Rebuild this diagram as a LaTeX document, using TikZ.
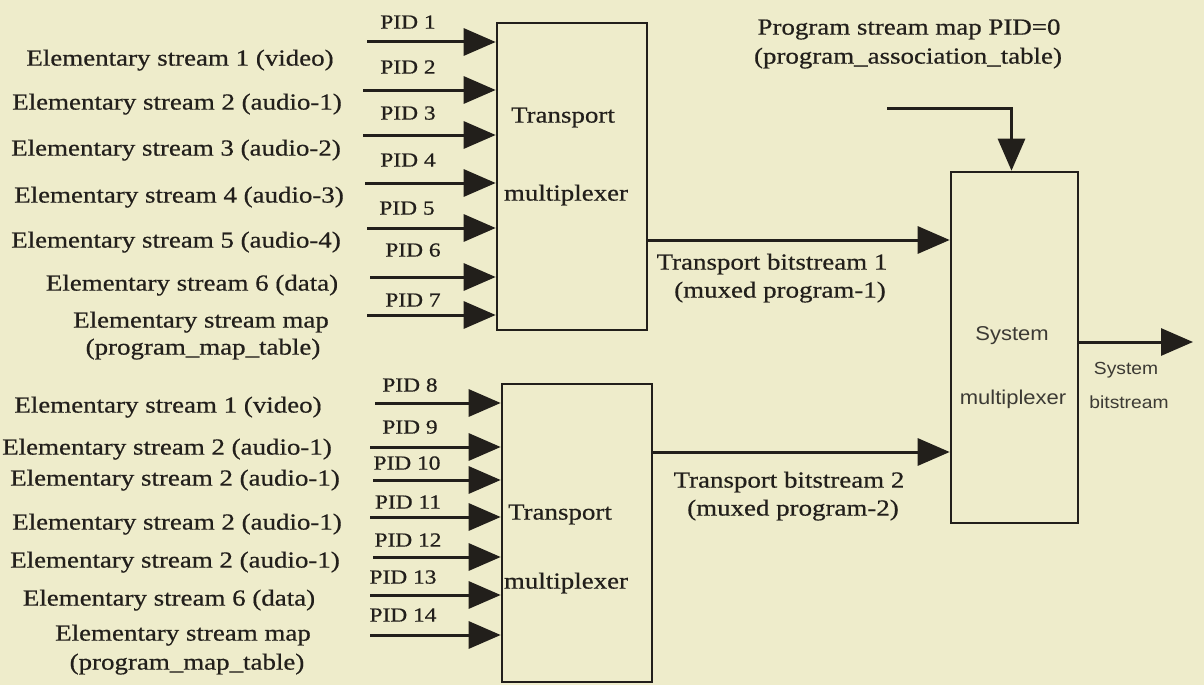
\documentclass[tikz,border=0pt]{standalone}
\usepackage{fontspec}
\setmainfont{Liberation Serif}[FakeStretch=1.17, FakeBold=0.6]
\newfontfamily\sysfont{Liberation Sans}[FakeStretch=1.1]
\usetikzlibrary{arrows.meta}

\definecolor{paper}{RGB}{238,236,203}
\definecolor{ink}{RGB}{34,31,27}
\definecolor{sysink}{RGB}{60,58,52}

\tikzset{
  box/.style={draw=ink, line width=2.6pt, inner sep=0pt},
  arr/.style={draw=ink, line width=3pt, -{Triangle[length=32pt,width=27pt]}},
  lbl/.style={inner sep=0pt, text=ink, font=\fontsize{23}{27}\selectfont,
              text height=15.2pt, text depth=0pt},
  pid/.style={inner sep=0pt, text=ink, font=\fontsize{20}{24}\selectfont,
              text height=13.2pt, text depth=0pt},
  sys/.style={inner sep=0pt, text=sysink, font=\sysfont\fontsize{20}{24}\selectfont,
              text height=14.3pt, text depth=0pt},
  sysout/.style={inner sep=0pt, text=sysink, font=\sysfont\fontsize{17.5}{21}\selectfont,
              text height=12.5pt, text depth=0pt}
}

\begin{document}
\begin{tikzpicture}[x=1pt, y=-1pt]
  \useasboundingbox (0,0) rectangle (1204,685);
  \clip (0,0) rectangle (1204,685);
  \fill[paper] (0,0) rectangle (1204,685);

  % multiplexer blocks
  \node[box, minimum width=150pt, minimum height=307pt] (tm1) at (572,176.5) {};
  \node[box, minimum width=150pt, minimum height=298pt] (tm2) at (577,533) {};
  \node[box, minimum width=127pt, minimum height=351pt] (sys) at (1014.5,347.5) {};

  \node[lbl] (tm1a) at (563,115) {Transport};
  \node[lbl] (tm1b) at (566,193) {multiplexer};
  \node[lbl] (tm2a) at (560,512) {Transport};
  \node[lbl] (tm2b) at (566,581) {multiplexer};
  \node[sys] (sysa) at (1012,333) {System};
  \node[sys] (sysb) at (1013,397) {multiplexer};

  % program 1 inputs
  \node[lbl] (s1) at (180,58)  {Elementary stream 1 (video)};
  \node[lbl] (s2) at (177,102) {Elementary stream 2 (audio-1)};
  \node[lbl] (s3) at (176,148) {Elementary stream 3 (audio-2)};
  \node[lbl] (s4) at (179,195) {Elementary stream 4 (audio-3)};
  \node[lbl] (s5) at (176,240) {Elementary stream 5 (audio-4)};
  \node[lbl] (s6) at (192,283) {Elementary stream 6 (data)};
  \node[lbl] (s7) at (201,320) {Elementary stream map};
  \node[lbl] (s7t) at (203,347) {(program\_map\_table)};

  \node[pid] (p1) at (408,22)  {PID 1};
  \node[pid] (p2) at (408,67)  {PID 2};
  \node[pid] (p3) at (408,113) {PID 3};
  \node[pid] (p4) at (408,160) {PID 4};
  \node[pid] (p5) at (407,208) {PID 5};
  \node[pid] (p6) at (413,250) {PID 6};
  \node[pid] (p7) at (413,300) {PID 7};

  \coordinate (i1) at (367,42);
  \coordinate (i2) at (363,90);
  \coordinate (i3) at (363,135);
  \coordinate (i4) at (365,183);
  \coordinate (i5) at (367,228);
  \coordinate (i6) at (370,277);
  \coordinate (i7) at (367,315);
  \foreach \k in {1,...,7} \draw[arr] (i\k) -- (i\k -| tm1.west);

  % program 2 inputs
  \node[lbl] (b1) at (168,405) {Elementary stream 1 (video)};
  \node[lbl] (b2) at (167,447) {Elementary stream 2 (audio-1)};
  \node[lbl] (b3) at (175,478) {Elementary stream 2 (audio-1)};
  \node[lbl] (b4) at (177,522) {Elementary stream 2 (audio-1)};
  \node[lbl] (b5) at (175,560) {Elementary stream 2 (audio-1)};
  \node[lbl] (b6) at (169,598) {Elementary stream 6 (data)};
  \node[lbl] (b7) at (183,633) {Elementary stream map};
  \node[lbl] (b7t) at (187,662) {(program\_map\_table)};

  \node[pid] (p8)  at (410,385) {PID 8};
  \node[pid] (p9)  at (410,427) {PID 9};
  \node[pid] (p10) at (407,463) {PID 10};
  \node[pid] (p11) at (408,502) {PID 11};
  \node[pid] (p12) at (408,540) {PID 12};
  \node[pid] (p13) at (403,577) {PID 13};
  \node[pid] (p14) at (403,615) {PID 14};

  \coordinate (j1) at (375,403);
  \coordinate (j2) at (370,447);
  \coordinate (j3) at (373,480);
  \coordinate (j4) at (370,517);
  \coordinate (j5) at (373,557);
  \coordinate (j6) at (370,595);
  \coordinate (j7) at (370,635);
  \foreach \k in {1,...,7} \draw[arr] (j\k) -- (j\k -| tm2.west);

  % transport bitstreams into the system multiplexer
  \coordinate (tb1) at (0,240);
  \coordinate (tb2) at (0,452);
  \draw[arr] (tm1.east |- tb1) -- (sys.west |- tb1);
  \draw[arr] (tm2.east |- tb2) -- (sys.west |- tb2);
  \node[lbl] (tb1a) at (772,262) {Transport bitstream 1};
  \node[lbl] (tb1b) at (780,290) {(muxed program-1)};
  \node[lbl] (tb2a) at (789,480) {Transport bitstream 2};
  \node[lbl] (tb2b) at (793,508) {(muxed program-2)};

  % program association table
  \node[lbl] (pat1) at (909,27) {Program stream map PID=0};
  \node[lbl] (pat2) at (908,56) {(program\_association\_table)};
  \coordinate (patin) at (887,108);
  \draw[arr] (patin) -| ([xshift=-3pt]sys.north);

  % system output
  \coordinate (out) at (1193,342);
  \draw[arr] (sys.east |- out) -- (out);
  \node[sysout] (outa) at (1126,368) {System};
  \node[sysout] (outb) at (1129,402) {bitstream};
\end{tikzpicture}
\end{document}
